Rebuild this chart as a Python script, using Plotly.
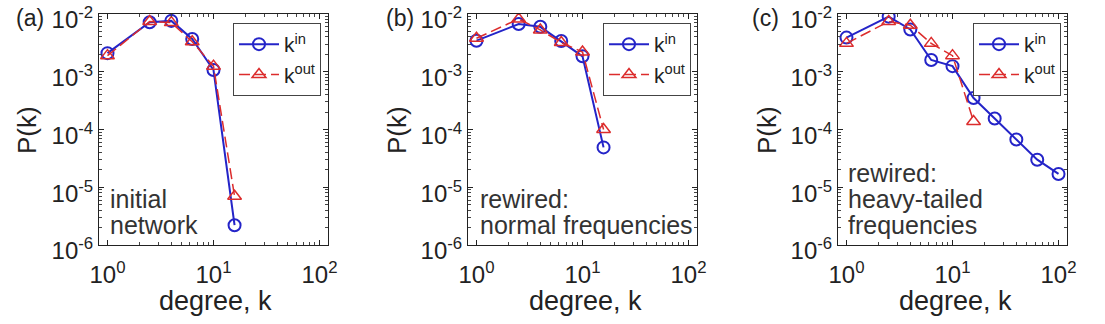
import plotly.graph_objects as go
from plotly.subplots import make_subplots

# ---- data ----
k_short = [1, 2.5, 4, 6.3, 10, 15.8]
a_in = [2.1e-3, 7.2e-3, 7.6e-3, 3.7e-3, 1.07e-3, 2.2e-6]
a_out = [1.9e-3, 7.4e-3, 7.1e-3, 3.3e-3, 1.25e-3, 7e-6]

b_in = [3.45e-3, 6.7e-3, 6.0e-3, 3.4e-3, 1.85e-3, 4.9e-5]
b_out = [3.8e-3, 8.2e-3, 5.3e-3, 3.2e-3, 2.2e-3, 1.0e-4]

k_long = [1, 2.5, 4, 6.3, 10, 15.8, 25, 40, 63, 100]
c_in = [3.9e-3, 9.0e-3, 5.4e-3, 1.6e-3, 1.25e-3, 3.5e-4, 1.55e-4, 6.7e-5, 3.0e-5, 1.7e-5]
c_out = [3.1e-3, 7.4e-3, 6.4e-3, 3.1e-3, 1.9e-3, 1.38e-4]

panel_labels = ["(a)", "(b)", "(c)"]
panel_notes = [["initial", "network"],
               ["rewired:", "normal frequencies"],
               ["rewired:", "heavy-tailed", "frequencies"]]
x_title = "degree, k"
y_title = "P(k)"
x_tickvals = [1, 10, 100]
x_ticktext = ["10<sup>0</sup>", "10<sup>1</sup>", "10<sup>2</sup>"]
y_tickvals = [1e-6, 1e-5, 1e-4, 1e-3, 1e-2]
y_ticktext = ["10<sup>-6</sup>", "10<sup>-5</sup>", "10<sup>-4</sup>", "10<sup>-3</sup>", "10<sup>-2</sup>"]

W, H = 1105, 324
BLUE = "#2424c8"
RED = "#dc2c2c"
FONT = "Liberation Sans, Arial, Helvetica, sans-serif"
TXT = "#222222"

fig = make_subplots(rows=1, cols=3)

panels = [
    (k_short, a_in, k_short, a_out),
    (k_short, b_in, k_short, b_out),
    (k_long, c_in, k_short, c_out),
]
legend_names = ["legend", "legend2", "legend3"]
for i, (kx_in, yin, kx_out, yout) in enumerate(panels):
    fig.add_trace(go.Scatter(
        x=kx_in, y=yin, mode="lines+markers", name="k<sup>in</sup>",
        line=dict(color=BLUE, width=2),
        marker=dict(symbol="circle-open", size=12, color=BLUE, line=dict(width=2)),
        legend=legend_names[i]), row=1, col=i + 1)
    fig.add_trace(go.Scatter(
        x=kx_out, y=yout, mode="lines+markers", name="k<sup>out</sup>",
        line=dict(color=RED, width=1.5, dash="11px,5px"),
        marker=dict(symbol="triangle-up-open", size=12, color=RED, line=dict(width=1.5)),
        legend=legend_names[i]), row=1, col=i + 1)

xdoms = [(99, 328), (468, 697), (838, 1067)]
ydom = [1 - 245 / H, 1 - 14 / H]

minor_x = [m * 10 ** e for e in range(0, 2) for m in range(2, 10)]
minor_y = [m * 10.0 ** e for e in range(-6, -2) for m in range(2, 10)]

for i, (x0, x1) in enumerate(xdoms):
    xa = "xaxis" if i == 0 else f"xaxis{i+1}"
    ya = "yaxis" if i == 0 else f"yaxis{i+1}"
    fig.layout[xa].update(
        type="log", range=[-0.08, 2.08], domain=[x0 / W, x1 / W],
        tickmode="array", tickvals=x_tickvals, ticktext=x_ticktext,
        ticks="inside", ticklen=5, tickcolor="#222", tickwidth=1,
        minor=dict(ticks="inside", ticklen=3, tickvals=minor_x, tickcolor="#444"),
        showline=True, linecolor="#222", linewidth=1, mirror="ticks",
        showgrid=False, zeroline=False, automargin=False,
        ticklabeloverflow="allow", ticklabelstandoff=8,
        tickfont=dict(family=FONT, size=24, color=TXT),
    )
    fig.layout[ya].update(
        type="log", range=[-6, -2], domain=ydom,
        tickmode="array", tickvals=y_tickvals, ticktext=y_ticktext,
        ticks="inside", ticklen=5, tickcolor="#222", tickwidth=1,
        minor=dict(ticks="inside", ticklen=3, tickvals=minor_y, tickcolor="#444"),
        showline=True, linecolor="#222", linewidth=1, mirror="ticks",
        showgrid=False, zeroline=False, automargin=False,
        ticklabeloverflow="allow", ticklabelstandoff=0, ticklabelshift=6,
        tickfont=dict(family=FONT, size=24, color=TXT),
    )

# legends
leg_x = [233, 603, 973]
legend_common = dict(
    yanchor="top", xanchor="left", y=1 - 23 / H,
    bgcolor="white", bordercolor="#444", borderwidth=1,
    font=dict(family=FONT, size=21, color=TXT),
    tracegroupgap=0, itemwidth=40,
)
fig.update_layout(
    legend=dict(x=leg_x[0] / W, **legend_common),
    legend2=dict(x=leg_x[1] / W, **legend_common),
    legend3=dict(x=leg_x[2] / W, **legend_common),
)

annotations = []
lab_x = [14, 384, 750]
for i in range(3):
    annotations.append(dict(
        x=lab_x[i] / W, y=1 - 18 / H, xref="paper", yref="paper",
        text=panel_labels[i], showarrow=False, xanchor="left", yanchor="middle",
        font=dict(family=FONT, size=23, color=TXT)))
note_x = [109, 479, 847]
note_line_y = [[199, 225], [199, 225], [173, 199, 225]]
for i in range(3):
    for line, ly in zip(panel_notes[i], note_line_y[i]):
        annotations.append(dict(
            x=note_x[i] / W, y=1 - ly / H, xref="paper", yref="paper",
            text=line, showarrow=False, xanchor="left", yanchor="middle",
            align="left", borderpad=0, font=dict(family=FONT, size=25, color="#333")))
# axis titles
xt_center = [215, 585, 955]
yt_center = [27, 397, 767]
for i in range(3):
    annotations.append(dict(
        x=xt_center[i] / W, y=1 - 301 / H, xref="paper", yref="paper",
        text=x_title, showarrow=False, xanchor="center", yanchor="middle",
        font=dict(family=FONT, size=27, color=TXT)))
    annotations.append(dict(
        x=yt_center[i] / W, y=1 - 130 / H, xref="paper", yref="paper",
        text=y_title, showarrow=False, xanchor="center", yanchor="middle",
        textangle=-90, font=dict(family=FONT, size=26, color=TXT)))
fig.update_layout(annotations=annotations)

fig.update_layout(
    width=W, height=H, margin=dict(l=0, r=0, t=0, b=0, autoexpand=False),
    paper_bgcolor="white", plot_bgcolor="white",
    showlegend=True,
)
fig.write_html("out.html")
